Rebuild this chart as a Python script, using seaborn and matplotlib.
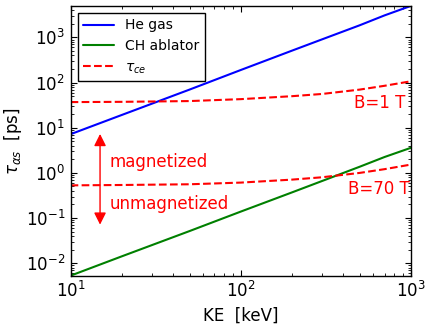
import numpy as np
import pandas as pd
import seaborn as sns
import matplotlib.pyplot as plt

# --- data (log-log) ---
ke = [10, 20, 50, 100, 200, 300, 500, 700, 1000]           # keV
tau_he = [7.2, 19.2, 70, 190, 510, 905, 1860, 3080, 5000]   # ps, He gas
tau_ch = [0.0053, 0.0142, 0.0515, 0.139, 0.37, 0.66, 1.37, 2.25, 3.6]  # ps, CH ablator
tau_ce_1T = [37, 37.5, 39, 43, 50, 56, 70, 85, 107]
tau_ce_70T = [0.53, 0.54, 0.56, 0.61, 0.71, 0.80, 1.0, 1.21, 1.53]

sns.set_style("ticks", {"xtick.direction": "in", "ytick.direction": "in",
                        "axes.edgecolor": "black", "text.color": "black",
                        "axes.labelcolor": "black", "xtick.color": "black",
                        "ytick.color": "black"})
plt.rcParams['font.family'] = ['DejaVu Sans']
plt.rcParams['mathtext.fontset'] = 'dejavusans'

fig = plt.figure(figsize=(4.33, 3.27), dpi=100)
ax = fig.add_axes([0.163, 0.157, 0.786, 0.825])

sns.lineplot(x=ke, y=tau_he, ax=ax, color='#0000ff', lw=1.5, label='He gas')
sns.lineplot(x=ke, y=tau_ch, ax=ax, color='#008000', lw=1.5, label='CH ablator')
sns.lineplot(x=ke, y=tau_ce_1T, ax=ax, color='#ff0000', lw=1.5, linestyle='--', label=r'$\tau_{ce}$')
sns.lineplot(x=ke, y=tau_ce_70T, ax=ax, color='#ff0000', lw=1.5, linestyle='--')

ax.set_xscale('log')
ax.set_yscale('log')
ax.set_xlim(10, 1000)
ax.set_ylim(0.0053, 5000)
ax.tick_params(which='both', top=True, right=True, labelsize=12, color='black')
ax.tick_params(which='major', length=4, pad=4)
ax.tick_params(which='minor', length=2)
for s in ax.spines.values():
    s.set_linewidth(1.0)
    s.set_color('black')

ax.set_xlabel('KE  [keV]', fontsize=12)
ax.set_ylabel(r'$\tau_{\alpha s}$  [ps]', fontsize=12)
ax.yaxis.set_label_coords(-0.137, 0.5)

leg = ax.legend(loc='upper left', fontsize=10, fancybox=False, edgecolor='black',
                framealpha=1, handlelength=2.2, borderaxespad=0.5)
leg.get_frame().set_linewidth(1.0)

# annotations
ax.annotate('', xy=(14.9, 8.4), xytext=(14.9, 0.062),
            arrowprops=dict(arrowstyle='<|-|>', color='#ff0000', lw=1, mutation_scale=18))
ax.text(17, 1.75, 'magnetized', color='#ff0000', fontsize=12, va='center')
ax.text(17, 0.2, 'unmagnetized', color='#ff0000', fontsize=12, va='center')
ax.text(930, 35, 'B=1 T', color='#ff0000', fontsize=12, va='center', ha='right')
ax.text(980, 0.44, 'B=70 T', color='#ff0000', fontsize=12, va='center', ha='right')

fig.savefig('out.png', dpi=100)
